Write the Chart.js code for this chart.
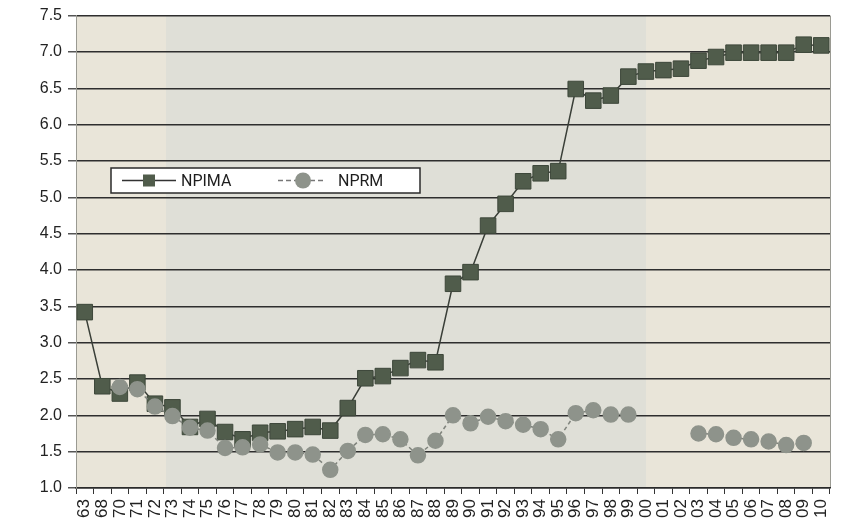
<!DOCTYPE html>
<html lang="en">
<head>
    <meta charset="UTF-8">
    <title>NPIMA / NPRM</title>
    <style>
        html, body { margin: 0; padding: 0; background: #fff; }
        #wrap { width: 849px; height: 525px; }
    </style>
    <script src="https://cdn.jsdelivr.net/npm/chart.js"></script>
</head>
<body>
    <div id="wrap"><canvas id="graphic"></canvas></div>
    <script>
        const years = ["63", "68", "70", "71", "72", "73", "74", "75", "76", "77", "78", "79",
            "80", "81", "82", "83", "84", "85", "86", "87", "88", "89", "90", "91", "92", "93",
            "94", "95", "96", "97", "98", "99", "00", "01", "02", "03", "04", "05", "06", "07",
            "08", "09", "10"];

        const npima = [3.42, 2.40, 2.30, 2.45, 2.16, 2.11, 1.84, 1.95, 1.77, 1.67, 1.76, 1.78,
            1.81, 1.84, 1.79, 2.10, 2.51, 2.54, 2.65, 2.76, 2.73, 3.81, 3.97, 4.61, 4.91, 5.22,
            5.33, 5.36, 6.49, 6.33, 6.40, 6.66, 6.73, 6.75, 6.77, 6.88, 6.93, 6.99, 6.99, 6.99,
            6.99, 7.10, 7.09];

        const nprm = [null, null, 2.39, 2.36, 2.12, 1.99, 1.83, 1.79, 1.55, 1.56, 1.60, 1.49,
            1.49, 1.46, 1.25, 1.51, 1.73, 1.74, 1.67, 1.45, 1.65, 2.00, 1.89, 1.98, 1.92, 1.87,
            1.81, 1.67, 2.03, 2.07, 2.01, 2.01, null, null, null, 1.75, 1.74, 1.69, 1.67, 1.64,
            1.59, 1.62, null];

        const yTicks = [1.0, 1.5, 2.0, 2.5, 3.0, 3.5, 4.0, 4.5, 5.0, 5.5, 6.0, 6.5, 7.0, 7.5];

        const squareColor = "#505c4b";
        const circleColor = "#8e938b";

        // plot background, like the scanned paper
        const plotBackground = {
            id: "plotBackground",
            beforeDraw(chart) {
                const { ctx, chartArea: a } = chart;
                ctx.save();
                ctx.fillStyle = "#e9e5d9";
                ctx.fillRect(a.left, a.top, a.right - a.left, a.bottom - a.top);
                ctx.fillStyle = "#dfdfd7";
                ctx.fillRect(a.left + 90, a.top, 480, a.bottom - a.top);
                ctx.strokeStyle = "#9a9a92";
                ctx.lineWidth = 1;
                ctx.beginPath();
                ctx.moveTo(a.right + 0.5, a.top);
                ctx.lineTo(a.right + 0.5, a.bottom);
                ctx.stroke();
                ctx.restore();
            }
        };

        // legend box inside the plot
        const boxLegend = {
            id: "boxLegend",
            afterDraw(chart) {
                const { ctx } = chart;
                const x = 111, y = 168, w = 309, h = 25;
                ctx.save();
                ctx.fillStyle = "#ffffff";
                ctx.fillRect(x, y, w, h);
                ctx.strokeStyle = "#2b2b2b";
                ctx.lineWidth = 1.5;
                ctx.strokeRect(x, y, w, h);

                const cy = y + h / 2;
                ctx.strokeStyle = "#333";
                ctx.lineWidth = 1.5;
                ctx.beginPath();
                ctx.moveTo(122, cy);
                ctx.lineTo(176, cy);
                ctx.stroke();
                ctx.fillStyle = squareColor;
                ctx.fillRect(143, cy - 6, 12, 12);

                ctx.strokeStyle = "#777";
                ctx.setLineDash([5, 3]);
                ctx.beginPath();
                ctx.moveTo(278, cy);
                ctx.lineTo(326, cy);
                ctx.stroke();
                ctx.setLineDash([]);
                ctx.fillStyle = circleColor;
                ctx.beginPath();
                ctx.arc(303, cy, 8, 0, Math.PI * 2);
                ctx.fill();

                ctx.fillStyle = "#1e1e1e";
                ctx.font = "16px 'Liberation Sans Narrow', 'Roboto', sans-serif";
                ctx.textBaseline = "middle";
                const labels = chart.data.datasets.map(d => d.label);
                ctx.fillText(labels[0], 181, cy + 1);
                ctx.fillText(labels[1], 338, cy + 1);
                ctx.restore();
            }
        };

        const ctx = document.getElementById("graphic").getContext("2d");

        new Chart(ctx, {
            type: "line",
            data: {
                labels: years,
                datasets: [
                    {
                        label: "NPIMA",
                        data: npima,
                        order: 1,
                        borderColor: "#3a3f38",
                        borderWidth: 1.5,
                        pointStyle: "rect",
                        pointRadius: 11,
                        pointBackgroundColor: squareColor,
                        pointBorderColor: "#3d473a",
                        pointBorderWidth: 1,
                        tension: 0
                    },
                    {
                        label: "NPRM",
                        data: nprm,
                        order: 0,
                        borderColor: "#7f837c",
                        borderWidth: 1.5,
                        borderDash: [4, 3],
                        pointStyle: "circle",
                        pointRadius: 7.5,
                        pointBackgroundColor: circleColor,
                        pointBorderColor: circleColor,
                        spanGaps: false,
                        tension: 0
                    }
                ]
            },
            options: {
                responsive: true,
                maintainAspectRatio: false,
                animation: false,
                layout: { padding: { top: 13, right: 19, left: 0, bottom: 0 } },
                plugins: {
                    legend: { display: false },
                    tooltip: { enabled: false }
                },
                scales: {
                    x: {
                        offset: true,
                        grid: {
                            offset: true,
                            drawOnChartArea: false,
                            drawTicks: true,
                            tickLength: 6,
                            tickColor: "#333"
                        },
                        border: { color: "#2b2b2b", width: 1.5 },
                        ticks: {
                            autoSkip: false,
                            minRotation: 90,
                            maxRotation: 90,
                            padding: 5,
                            color: "#222",
                            font: { family: "'Liberation Sans', Arial, sans-serif", size: 17 }
                        },
                        afterFit(scale) { scale.height = 37; }
                    },
                    y: {
                        min: 1.0,
                        max: 7.5,
                        afterBuildTicks(scale) {
                            scale.ticks = yTicks.map(v => ({ value: v }));
                        },
                        grid: {
                            color: "#2e2e2e",
                            lineWidth: 1.5,
                            drawTicks: true,
                            tickLength: 8,
                            tickColor: "#555"
                        },
                        border: { color: "#9a9a92", width: 1 },
                        ticks: {
                            padding: 6,
                            color: "#222",
                            font: { family: "'Liberation Sans', Arial, sans-serif", size: 16 },
                            callback: v => Number(v).toFixed(1)
                        },
                        afterFit(scale) { scale.width = 76; }
                    }
                }
            },
            plugins: [plotBackground, boxLegend]
        });
    </script>
</body>
</html>
